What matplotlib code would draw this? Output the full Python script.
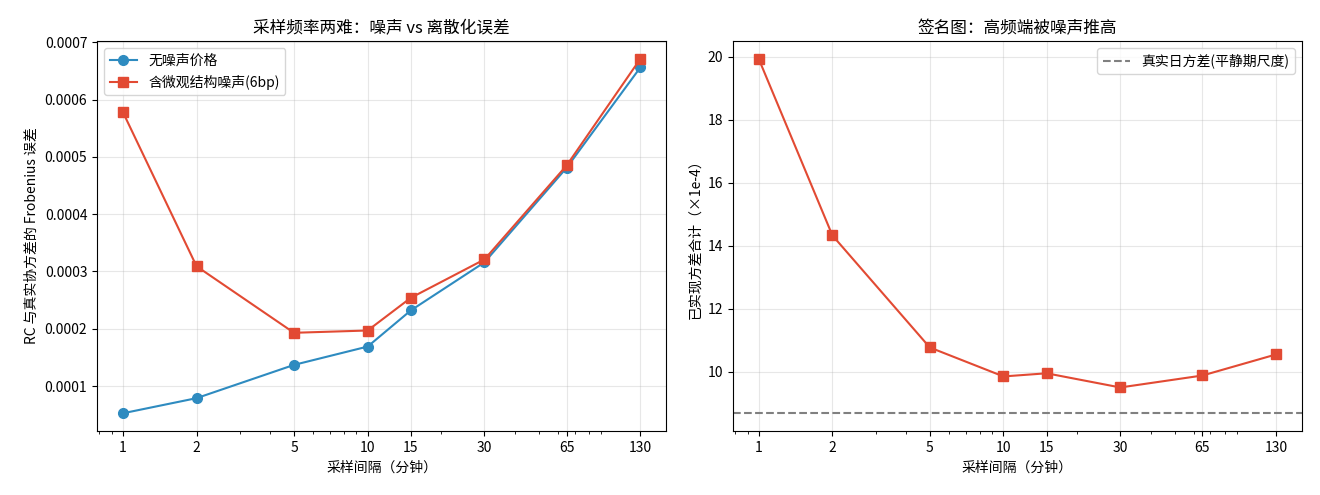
import numpy as np
import matplotlib
matplotlib.use('Agg')
import matplotlib.pyplot as plt
from matplotlib.ticker import FixedLocator, FixedFormatter, NullFormatter

plt.rcParams['font.family'] = ['Noto Sans CJK SC', 'DejaVu Sans']
plt.rcParams['axes.unicode_minus'] = False

intervals = [1, 2, 5, 10, 15, 30, 65, 130]
tick_labels = ['1', '2', '5', '10', '15', '30', '65', '130']

err_clean = [0.0000526, 0.000079, 0.000137, 0.000169, 0.000232, 0.000316, 0.000481, 0.000656]
err_noisy = [0.000578, 0.000309, 0.000193, 0.000197, 0.000254, 0.000321, 0.000485, 0.000671]

rv_sum = [19.94, 14.33, 10.77, 9.85, 9.95, 9.50, 9.88, 10.55]
true_var = 8.68

blue = '#2E8BC0'
red = '#E24A33'

fig, (ax1, ax2) = plt.subplots(1, 2, figsize=(13.2, 4.95), dpi=100)
fig.subplots_adjust(left=0.0735, right=0.9864, top=0.917, bottom=0.1293, wspace=0.117)

ax1.plot(intervals, err_clean, marker='o', markersize=7, color=blue, label='无噪声价格')
ax1.plot(intervals, err_noisy, marker='s', markersize=7, color=red, label='含微观结构噪声(6bp)')
ax1.set_title('采样频率两难：噪声 vs 离散化误差', fontsize=12)
ax1.set_ylabel('RC 与真实协方差的 Frobenius 误差')
ax1.legend(loc='upper left')

ax2.plot(intervals, rv_sum, marker='s', markersize=7, color=red)
ax2.axhline(true_var, color='gray', linestyle='--', label='真实日方差(平静期尺度)')
ax2.set_title('签名图：高频端被噪声推高', fontsize=12)
ax2.set_ylabel('已实现方差合计（×1e-4）')
ax2.legend(loc='upper right')

for ax in (ax1, ax2):
    ax.set_xscale('log')
    ax.xaxis.set_major_locator(FixedLocator(intervals))
    ax.xaxis.set_major_formatter(FixedFormatter(tick_labels))
    ax.xaxis.set_minor_formatter(NullFormatter())
    ax.set_xlabel('采样间隔（分钟）')
    ax.grid(True, alpha=0.3)

plt.savefig('out.png')
